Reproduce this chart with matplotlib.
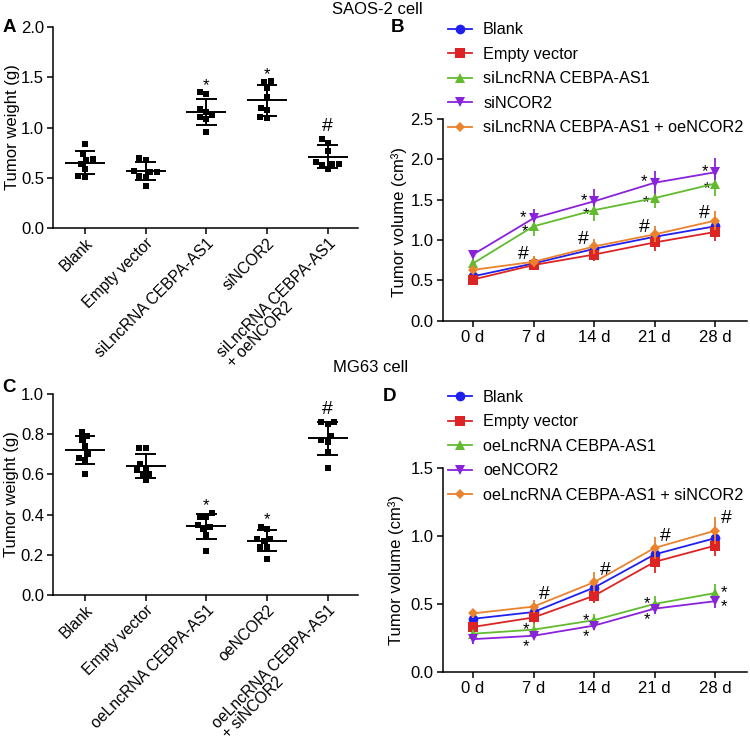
import numpy as np
import matplotlib
matplotlib.use('Agg')
import matplotlib.pyplot as plt
from matplotlib.lines import Line2D

plt.rcParams['font.family'] = ['Liberation Sans', 'DejaVu Sans']

# ---------------- data ----------------
a_categories = ['Blank', 'Empty vector', 'siLncRNA CEBPA-AS1', 'siNCOR2',
                'siLncRNA CEBPA-AS1\n+ oeNCOR2']
a_blank = [0.84, 0.74, 0.69, 0.68, 0.64, 0.59, 0.51, 0.52]
a_empty = [0.70, 0.68, 0.57, 0.56, 0.56, 0.51, 0.52, 0.42]
a_silnc = [1.35, 1.33, 1.18, 1.15, 1.12, 1.10, 1.08, 0.96]
a_sincor2 = [1.45, 1.46, 1.39, 1.30, 1.19, 1.17, 1.09, 1.10]
a_combo = [0.89, 0.85, 0.77, 0.64, 0.66, 0.64, 0.63, 0.59]
a_marks = ['', '', '*', '*', '#']

c_categories = ['Blank', 'Empty vector', 'oeLncRNA CEBPA-AS1', 'oeNCOR2',
                'oeLncRNA CEBPA-AS1\n+ siNCOR2']
c_blank = [0.81, 0.79, 0.77, 0.74, 0.68, 0.70, 0.67, 0.60]
c_empty = [0.73, 0.73, 0.65, 0.63, 0.62, 0.60, 0.60, 0.57]
c_oelnc = [0.39, 0.41, 0.39, 0.35, 0.34, 0.33, 0.30, 0.22]
c_oencor2 = [0.34, 0.33, 0.28, 0.28, 0.27, 0.24, 0.24, 0.18]
c_combo = [0.86, 0.86, 0.85, 0.79, 0.76, 0.77, 0.71, 0.63]
c_marks = ['', '', '*', '*', '#']

days = ['0 d', '7 d', '14 d', '21 d', '28 d']

b_labels = ['Blank', 'Empty vector', 'siLncRNA CEBPA-AS1', 'siNCOR2',
            'siLncRNA CEBPA-AS1 + oeNCOR2']
b_blank = [0.55, 0.71, 0.89, 1.04, 1.17]
b_empty = [0.51, 0.69, 0.82, 0.97, 1.10]
b_silnc = [0.71, 1.17, 1.37, 1.52, 1.70]
b_sincor2 = [0.82, 1.27, 1.48, 1.71, 1.84]
b_combo = [0.63, 0.73, 0.92, 1.07, 1.24]
b_blank_err = [0.04, 0.05, 0.07, 0.10, 0.12]
b_empty_err = [0.04, 0.06, 0.08, 0.10, 0.11]
b_silnc_err = [0.06, 0.12, 0.13, 0.12, 0.15]
b_sincor2_err = [0.04, 0.12, 0.15, 0.15, 0.18]
b_combo_err = [0.04, 0.07, 0.09, 0.10, 0.12]

d_labels = ['Blank', 'Empty vector', 'oeLncRNA CEBPA-AS1', 'oeNCOR2',
            'oeLncRNA CEBPA-AS1 + siNCOR2']
d_blank = [0.39, 0.44, 0.62, 0.865, 0.985]
d_empty = [0.33, 0.40, 0.56, 0.81, 0.93]
d_oelnc = [0.28, 0.31, 0.38, 0.50, 0.58]
d_oencor2 = [0.24, 0.265, 0.34, 0.465, 0.52]
d_combo = [0.43, 0.48, 0.66, 0.913, 1.04]
d_blank_err = [0.04, 0.05, 0.06, 0.08, 0.09]
d_empty_err = [0.04, 0.05, 0.055, 0.08, 0.08]
d_oelnc_err = [0.03, 0.05, 0.045, 0.06, 0.065]
d_oencor2_err = [0.035, 0.025, 0.03, 0.04, 0.05]
d_combo_err = [0.035, 0.05, 0.075, 0.08, 0.10]

colors = ['#2020ee', '#dc2424', '#62bb2e', '#8a22dc', '#ea822e']
markers = ['o', 's', '^', 'v', 'D']
msizes = [7, 6.5, 7, 7, 5.5]

FS = 12
W, H = 750, 740
fig = plt.figure(figsize=(W / 100, H / 100), dpi=100)


def px_axes(left, right, top, bottom):
    return fig.add_axes([left / W, 1 - bottom / H, (right - left) / W, (bottom - top) / H])


def style(ax):
    for s in ['top', 'right']:
        ax.spines[s].set_visible(False)
    for s in ['left', 'bottom']:
        ax.spines[s].set_linewidth(1.1)
    ax.tick_params(axis='both', width=1.1, length=4.5, labelsize=FS, pad=2, direction='out')


def swarm(values, ypx, xpx, d):
    vals = np.asarray(values, float)
    order = np.argsort(vals)
    placed = []
    offs = np.zeros(len(vals))
    for i in order:
        y = vals[i] * ypx
        intervals = []
        for (px, py) in placed:
            dy = abs(y - py)
            if dy < d:
                h = np.sqrt(d * d - dy * dy)
                intervals.append((px - h, px + h))
        cands = [0.0] + [e for iv in intervals for e in iv]
        cands.sort(key=lambda c: (abs(c), c))
        x = 0.0
        for c in cands:
            if all(not (lo + 1e-6 < c < hi - 1e-6) for lo, hi in intervals):
                x = c
                break
        placed.append((x, y))
        offs[i] = x / xpx
    return offs


def scatter_panel(ax, groups, cats, marks, ymax, ystep, ylabel, wpx, hpx):
    xlim = (-0.53, 4.5)
    ax.set_xlim(*xlim)
    ax.set_ylim(0, ymax)
    xpx = wpx / (xlim[1] - xlim[0])
    ypx = hpx / ymax
    for i, g in enumerate(groups):
        g = np.asarray(g)
        offs = swarm(g, ypx, xpx, 6.8)
        ax.plot(i + offs, g, 's', color='black', ms=4.8, mew=0, zorder=3)
        m = g.mean()
        sd = g.std(ddof=1)
        ax.hlines(m, i - 0.33, i + 0.33, color='black', lw=1.4, zorder=4)
        ax.hlines([m - sd, m + sd], i - 0.17, i + 0.17, color='black', lw=1.4, zorder=4)
        ax.vlines(i, m - sd, m + sd, color='black', lw=1.4, zorder=4)
        if marks[i]:
            if marks[i] == '*':
                ax.annotate('*', (i, g.max()), xytext=(0, 5), textcoords='offset points',
                            ha='center', va='center', fontsize=12)
            else:
                ax.annotate('#', (i, g.max()), xytext=(0, 9), textcoords='offset points',
                            ha='center', va='center', fontsize=14)
    ax.set_xticks(range(len(cats)))
    ax.set_yticks(np.arange(0, ymax + 1e-9, ystep))
    ax.yaxis.set_major_formatter(matplotlib.ticker.FormatStrFormatter('%.1f'))
    ax.set_ylabel(ylabel, fontsize=FS)
    style(ax)
    ax.tick_params(axis='x', pad=1)
    ax.set_xticklabels(cats, rotation=45, ha='right', va='top', rotation_mode='anchor',
                       multialignment='left', fontsize=11.3, linespacing=0.95)


def line_panel(ax, series, errs, labels, ymax, legend_top_px):
    x = np.arange(len(days))
    handles = []
    for k in range(len(series)):
        ax.errorbar(x, series[k], yerr=errs[k], color=colors[k], marker=markers[k],
                    ms=msizes[k], mew=0, lw=1.3, elinewidth=1.3, capsize=3.5,
                    capthick=1.3, zorder=3 + k * 0.1)
        handles.append(Line2D([], [], color=colors[k], marker=markers[k], ms=msizes[k],
                              mew=0, lw=1.3))
    ax.set_xlim(-0.5, 4.52)
    ax.set_ylim(0, ymax)
    ax.set_xticks(x)
    ax.set_xticklabels(days)
    ax.set_yticks(np.arange(0, ymax + 1e-9, 0.5))
    ax.yaxis.set_major_formatter(matplotlib.ticker.FormatStrFormatter('%.1f'))
    ax.set_ylabel('Tumor volume (cm³)', fontsize=FS)
    style(ax)
    fig.legend(handles, labels, loc='upper left',
               bbox_to_anchor=(448 / W, 1 - legend_top_px / H), frameon=False,
               fontsize=11.7, handlelength=1.5, handletextpad=0.66, labelspacing=0.58,
               borderpad=0, borderaxespad=0)


# ---------------- Panel A ----------------
axA = px_axes(53, 358, 27, 228)
scatter_panel(axA, [a_blank, a_empty, a_silnc, a_sincor2, a_combo], a_categories, a_marks,
              2.0, 0.5, 'Tumor weight (g)', 305, 201)
axA.yaxis.set_label_coords(-0.108, 0.5)

# ---------------- Panel C ----------------
axC = px_axes(53, 358, 394, 595)
scatter_panel(axC, [c_blank, c_empty, c_oelnc, c_oencor2, c_combo], c_categories, c_marks,
              1.0, 0.2, 'Tumor weight (g)', 305, 201)
axC.yaxis.set_label_coords(-0.11, 0.5)

# ---------------- Panel B ----------------
axB = px_axes(442.7, 746.7, 119, 320.7)
line_panel(axB, [b_blank, b_empty, b_silnc, b_sincor2, b_combo],
           [b_blank_err, b_empty_err, b_silnc_err, b_sincor2_err, b_combo_err],
           b_labels, 2.5, 22.5)
axB.yaxis.set_label_coords(-0.116, 0.49)
for i in range(1, 5):
    axB.annotate('*', (i, b_sincor2[i]), xytext=(-7.5, 0.5), textcoords='offset points',
                 ha='center', va='center', fontsize=12)
    axB.annotate('*', (i, b_silnc[i]), xytext=(-6, -3.5), textcoords='offset points',
                 ha='center', va='center', fontsize=12)
    axB.annotate('#', (i, b_combo[i]), xytext=(-7.5, 5), textcoords='offset points',
                 ha='center', va='center', fontsize=14)

# ---------------- Panel D ----------------
axD = px_axes(442.7, 746.7, 468.3, 671.7)
line_panel(axD, [d_blank, d_empty, d_oelnc, d_oencor2, d_combo],
           [d_blank_err, d_empty_err, d_oelnc_err, d_oencor2_err, d_combo_err],
           d_labels, 1.5, 390)
axD.yaxis.set_label_coords(-0.126, 0.5)
for i in range(1, 5):
    dx = 6.5 if i == 4 else -5.5
    axD.annotate('*', (i, d_oelnc[i]), xytext=(dx, 0), textcoords='offset points',
                 ha='center', va='center', fontsize=12)
    axD.annotate('*', (i, d_oencor2[i]), xytext=(dx, -8 if i < 4 else -4),
                 textcoords='offset points', ha='center', va='center', fontsize=12)
    axD.annotate('#', (i, d_combo[i]), xytext=(8, 8.5), textcoords='offset points',
                 ha='center', va='center', fontsize=14)

# ---------------- titles & letters ----------------
fig.text(377 / W, 1 - 9 / H, 'SAOS-2 cell', ha='center', va='center', fontsize=FS)
fig.text(371 / W, 1 - 368 / H, 'MG63 cell', ha='center', va='center', fontsize=FS)
for lab, xp, yp in [('A', 9, 27), ('B', 398, 27), ('C', 9, 387), ('D', 390, 397)]:
    fig.text(xp / W, 1 - yp / H, lab, ha='center', va='center', fontsize=13.5, fontweight='bold')

fig.savefig('out.png', dpi=100)
